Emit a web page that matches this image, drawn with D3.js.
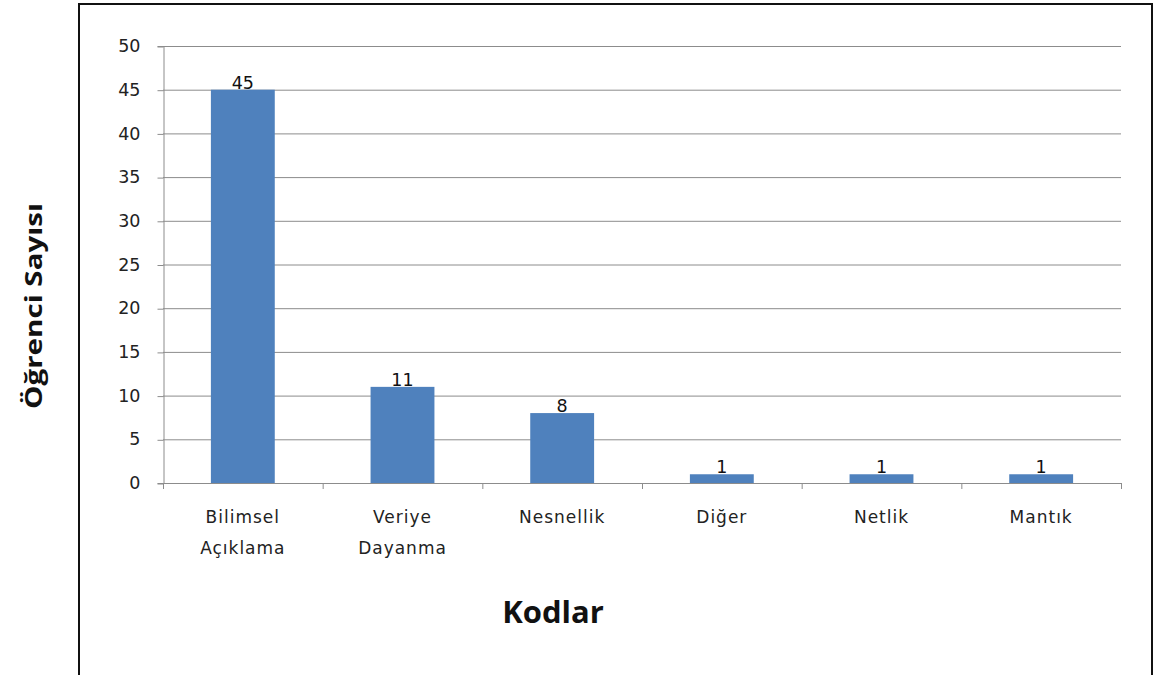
<!DOCTYPE html>
<html>
<head>
<meta charset="utf-8">
<script src="https://cdn.jsdelivr.net/npm/d3@7/dist/d3.min.js"></script>
<style>
  html, body { margin: 0; padding: 0; background: #fff; }
  svg { display: block; }
</style>
</head>
<body>
<svg id="chart" width="1159" height="675"></svg>
<script>
// Category codes and the number of students for each
const categories = [["Bilimsel", "Açıklama"], ["Veriye", "Dayanma"], ["Nesnellik"], ["Diğer"], ["Netlik"], ["Mantık"]];
const values = [45, 11, 8, 1, 1, 1];
const yTicks = [0, 5, 10, 15, 20, 25, 30, 35, 40, 45, 50];
const yTitle = "Öğrenci Sayısı";
const xTitle = "Kodlar";

const svg = d3.select("#chart");
const labelFont = "'DejaVu Sans', Verdana, sans-serif";
const titleFont = "'Open Sans', 'Noto Sans', sans-serif";

// outer frame
svg.append("rect")
  .attr("x", 79).attr("y", 4)
  .attr("width", 1073).attr("height", 700)
  .attr("fill", "none").attr("stroke", "#111").attr("stroke-width", 2);

const plot = { left: 163, right: 1121, top: 46, bottom: 483 };

const x = d3.scaleBand()
  .domain(d3.range(categories.length))
  .range([plot.left, plot.right])
  .paddingInner(0.6).paddingOuter(0.3);

const y = d3.scaleLinear().domain([0, 50]).range([plot.bottom, plot.top]);

// horizontal gridlines
svg.append("g")
  .selectAll("line")
  .data(yTicks.filter(d => d > 0))
  .join("line")
  .attr("x1", plot.left).attr("x2", plot.right)
  .attr("y1", d => y(d) + 0.5).attr("y2", d => y(d) + 0.5)
  .attr("stroke", "#8c8c8c").attr("stroke-width", 1);

// y axis
const yAxis = svg.append("g")
  .attr("transform", `translate(${plot.left + 0.5},0)`)
  .call(d3.axisLeft(y).tickValues(yTicks).tickSize(6).tickPadding(17));
yAxis.select(".domain").attr("stroke", "#8c8c8c");
yAxis.selectAll(".tick line").attr("stroke", "#8c8c8c").attr("transform", "translate(0,0.5)");
yAxis.selectAll(".tick text")
  .attr("font-family", labelFont).attr("font-size", 17.5).attr("fill", "#222");

// bars
svg.append("g")
  .selectAll("rect")
  .data(values)
  .join("rect")
  .attr("x", (d, i) => x(i))
  .attr("y", d => y(d))
  .attr("width", x.bandwidth())
  .attr("height", d => y(0) - y(d))
  .attr("fill", "#4f81bd");

// value labels
svg.append("g")
  .selectAll("text")
  .data(values)
  .join("text")
  .attr("x", (d, i) => x(i) + x.bandwidth() / 2)
  .attr("y", d => y(d) - 1)
  .attr("text-anchor", "middle")
  .attr("font-family", labelFont).attr("font-size", 17.5).attr("fill", "#111")
  .text(d => d);

// x axis with ticks at band boundaries
const step = (plot.right - plot.left) / categories.length;
const xAxisG = svg.append("g");
xAxisG.append("line")
  .attr("x1", plot.left).attr("x2", plot.right)
  .attr("y1", plot.bottom + 0.5).attr("y2", plot.bottom + 0.5)
  .attr("stroke", "#8c8c8c");
xAxisG.selectAll("line.tick")
  .data(d3.range(categories.length + 1))
  .join("line")
  .attr("class", "tick")
  .attr("x1", i => plot.left + i * step + 0.5).attr("x2", i => plot.left + i * step + 0.5)
  .attr("y1", plot.bottom).attr("y2", plot.bottom + 6)
  .attr("stroke", "#8c8c8c");

// category labels
const catText = svg.append("g")
  .selectAll("text")
  .data(categories)
  .join("text")
  .attr("text-anchor", "middle")
  .attr("font-family", labelFont).attr("font-size", 17).attr("letter-spacing", 1)
  .attr("fill", "#222");
catText.each(function(lines, i) {
  const t = d3.select(this);
  lines.forEach((ln, k) => {
    t.append("tspan")
      .attr("x", x(i) + x.bandwidth() / 2)
      .attr("y", 523 + k * 31)
      .text(ln);
  });
});

// axis titles
svg.append("text")
  .attr("transform", "translate(42,306) rotate(-90)")
  .attr("text-anchor", "middle")
  .attr("font-family", titleFont).attr("font-weight", "bold").attr("font-size", 24)
  .attr("textLength", 206).attr("lengthAdjust", "spacingAndGlyphs")
  .attr("fill", "#111")
  .text(yTitle);

svg.append("text")
  .attr("x", 553).attr("y", 623)
  .attr("text-anchor", "middle")
  .attr("font-family", titleFont).attr("font-weight", "bold").attr("font-size", 31)
  .attr("fill", "#111")
  .text(xTitle);
</script>
</body>
</html>
